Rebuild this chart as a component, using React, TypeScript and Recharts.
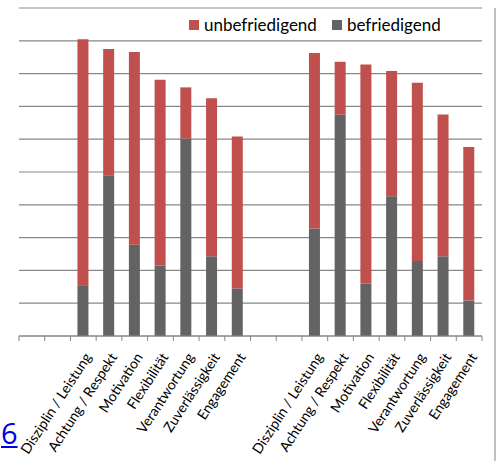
import React from "react";
import { BarChart, Bar, XAxis, YAxis, CartesianGrid } from "recharts";

const categories = [
  "", "",
  "Disziplin / Leistung", "Achtung / Respekt", "Motivation", "Flexibilität", "Verantwortung", "Zuverlässigkeit", "Engagement",
  "", "",
  "Disziplin / Leistung", "Achtung / Respekt", "Motivation", "Flexibilität", "Verantwortung", "Zuverlässigkeit", "Engagement",
];

const befriedigend = [
  null, null,
  15.5, 49, 27.8, 21.4, 60.2, 24.3, 14.5,
  null, null,
  32.8, 67.5, 15.9, 42.6, 22.9, 24.3, 10.8,
];

const unbefriedigend = [
  null, null,
  75.0, 38.5, 58.8, 56.7, 15.6, 48.2, 46.3,
  null, null,
  53.5, 16.1, 66.9, 38.2, 54.3, 43.2, 46.8,
];

const yTicks = [0, 10, 20, 30, 40, 50, 60, 70, 80, 90, 100];

const RED = "#C0504D";
const GREY = "#636363";
const FONT = "Lato, 'Open Sans', sans-serif";

const data = categories.map((c, i) => ({
  id: i,
  label: c,
  befriedigend: befriedigend[i],
  unbefriedigend: unbefriedigend[i],
}));

const W = 499;
const H = 461;
const ML = 19;
const MR = 17;
const SLOT = (W - ML - MR) / categories.length;

const Tick = (props: any) => {
  const { x, y, payload, index } = props;
  const label = categories[payload.value] ?? "";
  const ax = x + 4;
  const ay = y + 10;
  return (
    <g>
      <line x1={x - SLOT / 2} y1={y - 8} x2={x - SLOT / 2} y2={y - 3} stroke="#878787" strokeWidth={1} />
      {index === categories.length - 1 && (
        <line x1={x + SLOT / 2} y1={y - 8} x2={x + SLOT / 2} y2={y - 3} stroke="#878787" strokeWidth={1} />
      )}
      <g transform={`translate(${ax},${ay}) rotate(-57)`}>
        <text
          x={0}
          y={0}
          textAnchor="end"
          dominantBaseline="central"
          fontSize={14}
          fontFamily={FONT}
          fill="#000"
        >
          {label}
        </text>
      </g>
    </g>
  );
};

export default function App() {
  return (
    <div style={{ position: "absolute", left: 0, top: 0, width: W, height: H, background: "#fff" }}>
      <BarChart
        width={W}
        height={H}
        data={data}
        margin={{ top: 8, right: MR, bottom: 0, left: ML }}
        barSize={11}
      >
        <CartesianGrid vertical={false} stroke="#878787" strokeWidth={1.2} />
        <XAxis
          dataKey="id"
          interval={0}
          height={125}
          tick={<Tick />}
          tickLine={false}
          axisLine={{ stroke: "#878787", strokeWidth: 1.2 }}
        />
        <YAxis hide domain={[0, 100]} ticks={yTicks} />
        <Bar dataKey="befriedigend" name="befriedigend" stackId="a" fill={GREY} isAnimationActive={false} />
        <Bar dataKey="unbefriedigend" name="unbefriedigend" stackId="a" fill={RED} isAnimationActive={false} />
      </BarChart>
      <div
        style={{
          position: "absolute",
          left: 189,
          top: 14,
          display: "flex",
          alignItems: "center",
          fontFamily: FONT,
          fontSize: 17,
          color: "#000",
          lineHeight: "22px",
          whiteSpace: "nowrap",
        }}
      >
        <span style={{ width: 10, height: 10, background: RED, display: "inline-block", marginRight: 5 }} />
        <span style={{ marginRight: 15 }}>unbefriedigend</span>
        <span style={{ width: 10, height: 10, background: GREY, display: "inline-block", marginRight: 5 }} />
        <span>befriedigend</span>
      </div>
      <div style={{ position: "absolute", left: 494, top: 8, width: 2, height: H - 8, background: "#c0c0c0" }} />
      <span
        style={{
          position: "absolute",
          left: 1,
          top: 416,
          fontFamily: "'Open Sans', sans-serif",
          fontSize: 29,
          color: "#0000EE",
          textDecoration: "underline",
          lineHeight: "34px",
        }}
      >
        6
      </span>
    </div>
  );
}
